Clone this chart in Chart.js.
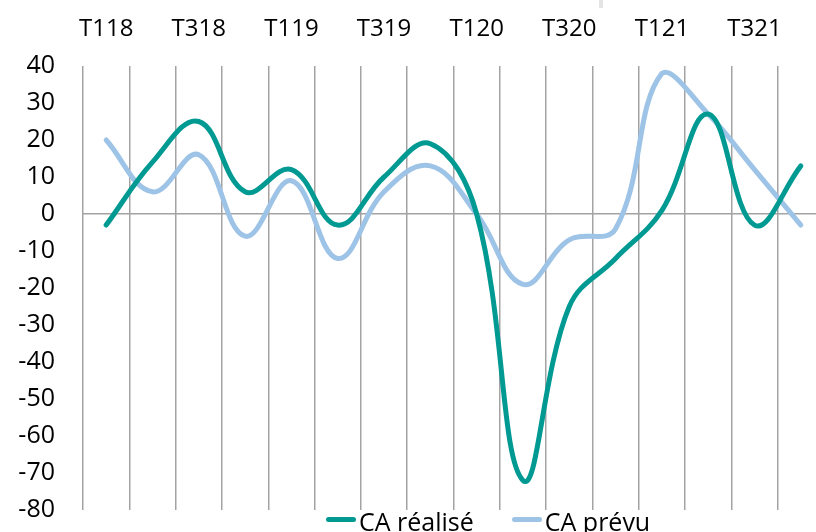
<!DOCTYPE html>
<html>
  <head>
    <script src="https://cdn.jsdelivr.net/npm/chart.js"></script>
    <style>
      body {
        margin: 0;
        background: #ffffff;
        overflow: hidden;
        width: 816px;
        height: 532px;
        position: relative;
        font-family: "Open Sans", sans-serif;
      }
      #wrap {
        position: absolute;
        left: 0;
        top: 0;
        width: 840px;
        height: 532px;
      }
      #legend {
        position: absolute;
        left: 326px;
        top: 509px;
        display: flex;
        align-items: center;
        font-size: 25px;
        line-height: 25px;
        color: #000;
        white-space: nowrap;
      }
      .item {
        display: flex;
        align-items: center;
        margin-right: 38px;
      }
      .sample {
        width: 30px;
        height: 5px;
        border-radius: 3px;
        margin-right: 3px;
        position: relative;
        top: -2px;
      }
      .mark {
        position: absolute;
        left: 599px;
        top: 0;
        width: 4px;
        height: 8px;
        background: #e4e4e4;
      }
    </style>
  </head>
  <body>
    <div id="wrap"><canvas id="chart" width="840" height="532"></canvas></div>
    <div class="mark"></div>
    <div id="legend"></div>

    <script>
      const quarters = ['T118', 'T218', 'T318', 'T418', 'T119', 'T219', 'T319', 'T419',
                        'T120', 'T220', 'T320', 'T420', 'T121', 'T221', 'T321', 'T421'];
      const caRealise = [-3, 14, 25, 6, 12, -3, 10, 19, 0, -72, -25, -12, 1, 27, -3, 13];
      const caPrevu = [20, 6, 16, -6, 9, -12, 6, 13, 0, -19, -7, -4, 38, 27, 12, -3];
      const yTicks = [40, 30, 20, 10, 0, -10, -20, -30, -40, -50, -60, -70, -80];

      const teal = '#009a93';
      const lightBlue = '#9dc3e6';
      const gridGrey = '#a3a3a3';

      const chart = new Chart(document.getElementById('chart'), {
        type: 'line',
        data: {
          labels: quarters,
          datasets: [
            {
              label: 'CA réalisé',
              data: caRealise,
              borderColor: teal,
              backgroundColor: teal,
              borderWidth: 5,
              borderCapStyle: 'round',
              pointRadius: 0,
              tension: 0.4
            },
            {
              label: 'CA prévu',
              data: caPrevu,
              borderColor: lightBlue,
              backgroundColor: lightBlue,
              borderWidth: 5,
              borderCapStyle: 'round',
              pointRadius: 0,
              tension: 0.4
            }
          ]
        },
        options: {
          responsive: false,
          animation: false,
          layout: { padding: { left: 0, right: 16, top: 0, bottom: 22 } },
          plugins: {
            legend: { display: false },
            tooltip: { enabled: false }
          },
          scales: {
            x: {
              position: 'top',
              offset: true,
              afterFit: s => { s.height = 66; s.paddingLeft = 0; s.paddingRight = 0; },
              grid: { offset: true, color: gridGrey, lineWidth: 1.5, drawTicks: false },
              border: { display: false },
              ticks: {
                autoSkip: false,
                maxRotation: 0,
                padding: 22,
                color: '#000',
                font: { family: 'Open Sans', size: 24 },
                callback: (v, i) => (i % 2 === 0 ? quarters[i] : '')
              }
            },
            y: {
              min: yTicks[yTicks.length - 1],
              max: yTicks[0],
              afterFit: s => { s.width = 83; s.paddingTop = 0; s.paddingBottom = 0; },
              afterBuildTicks: s => { s.ticks = yTicks.map(v => ({ value: v })); },
              grid: {
                drawTicks: false,
                lineWidth: 1.5,
                color: ctx => (ctx.tick && ctx.tick.value === 0 ? gridGrey : 'rgba(0,0,0,0)')
              },
              border: { display: false },
              ticks: {
                padding: 28,
                color: '#000',
                font: { family: 'Open Sans', size: 25 }
              }
            }
          }
        }
      });

      // legend built from the datasets
      const legend = document.getElementById('legend');
      chart.data.datasets.forEach(ds => {
        const item = document.createElement('div');
        item.className = 'item';
        const sample = document.createElement('span');
        sample.className = 'sample';
        sample.style.background = ds.borderColor;
        const text = document.createElement('span');
        text.textContent = ds.label;
        item.appendChild(sample);
        item.appendChild(text);
        legend.appendChild(item);
      });
    </script>
  </body>
</html>
